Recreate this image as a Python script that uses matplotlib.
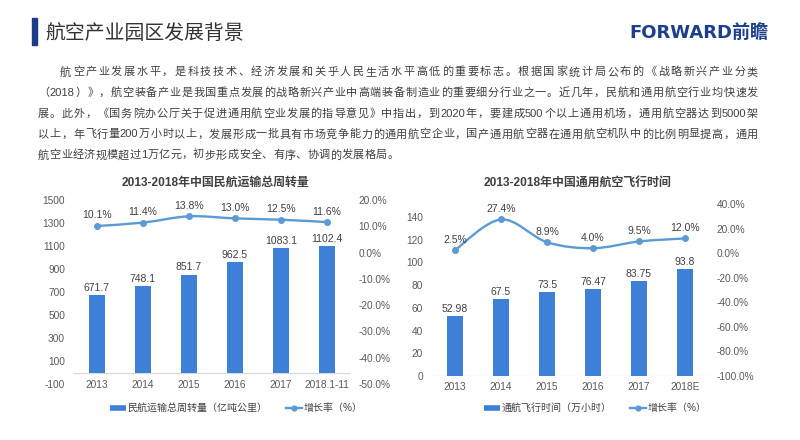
import re
import matplotlib
matplotlib.use('Agg')
import matplotlib.pyplot as plt
from matplotlib.path import Path
from matplotlib.patches import PathPatch, Rectangle
from matplotlib.lines import Line2D

plt.rcParams['font.family'] = ['Liberation Sans', 'Noto Sans CJK SC']
plt.rcParams['axes.unicode_minus'] = False

# ---- data ----
page_title = '航空产业园区发展背景'
para_lines = [
    '航空产业发展水平，是科技技术、经济发展和关乎人民生活水平高低的重要标志。根据国家统计局公布的《战略新兴产业分类',
    '（2018）》，航空装备产业是我国重点发展的战略新兴产业中高端装备制造业的重要细分行业之一。近几年，民航和通用航空行业均快速发',
    '展。此外，《国务院办公厅关于促进通用航空业发展的指导意见》中指出，到2020年，要建成500个以上通用机场，通用航空器达到5000架',
    '以上，年飞行量200万小时以上，发展形成一批具有市场竞争能力的通用航空企业，国产通用航空器在通用航空机队中的比例明显提高，通用',
    '航空业经济规模超过1万亿元，初步形成安全、有序、协调的发展格局。',
]

title1 = '2013-2018年中国民航运输总周转量'
years1 = ['2013', '2014', '2015', '2016', '2017', '2018.1-11']
turnover = [671.7, 748.1, 851.7, 962.5, 1083.1, 1102.4]
growth1 = [10.1, 11.4, 13.8, 13.0, 12.5, 11.6]
bar_name1 = '民航运输总周转量（亿吨公里）'

title2 = '2013-2018年中国通用航空飞行时间'
years2 = ['2013', '2014', '2015', '2016', '2017', '2018E']
hours = [52.98, 67.5, 73.5, 76.47, 83.75, 93.8]
growth2 = [2.5, 27.4, 8.9, 4.0, 9.5, 12.0]
bar_name2 = '通航飞行时间（万小时）'

line_name = '增长率（%）'

BAR = '#3e7fd8'
LINE = '#5b9bd5'
TXT = '#404040'
TICK = '#595959'
W, H = 800, 440


def fx(px):
    return px / W


def fy(py):
    return 1 - py / H


def smooth_path(xs, ys):
    # catmull-rom style bezier through the points (excel "smoothed line")
    verts = [(xs[0], ys[0])]
    codes = [Path.MOVETO]
    n = len(xs)
    for i in range(n - 1):
        a = i - 1 if i > 0 else i
        d = i + 2 if i + 2 < n else i + 1
        c1 = (xs[i] + (xs[i + 1] - xs[a]) / 6, ys[i] + (ys[i + 1] - ys[a]) / 6)
        c2 = (xs[i + 1] - (xs[d] - xs[i]) / 6, ys[i + 1] - (ys[d] - ys[i]) / 6)
        verts += [c1, c2, (xs[i + 1], ys[i + 1])]
        codes += [Path.CURVE4] * 3
    return Path(verts, codes)


fig = plt.figure(figsize=(8, 4.4), dpi=100)
renderer = fig.canvas.get_renderer()

# header
fig.patches.append(Rectangle((fx(32), fy(45)), fx(5), 27 / H,
                             transform=fig.transFigure, color='#1f3c88'))
fig.text(fx(45), fy(33), page_title, fontsize=14.3, color='#333333', va='center')
fig.text(fx(768), fy(33), 'FORWARD前瞻', fontsize=13, fontweight='bold',
         color='#1c3f8c', ha='right', va='center',
         family=['DejaVu Sans', 'Noto Sans CJK SC'])


# justified paragraph, placed token by token
def put_line(s, x0, x1, y, justify):
    toks = re.findall(r'[A-Za-z0-9.]+|.', s)
    ts = [fig.text(0, fy(y), t, fontsize=8, color=TXT, va='center') for t in toks]
    ws = [t.get_window_extent(renderer).width for t in ts]
    gap = (x1 - x0 - sum(ws)) / (len(ts) - 1) if justify else 0.3
    x = x0
    for t, w in zip(ts, ws):
        t.set_x(fx(x))
        x += w + gap


ys_para = [72, 92.8, 113.6, 134.4, 155.2]
for k, s in enumerate(para_lines):
    put_line(s, 60 if k == 0 else 38, 758, ys_para[k], k < 4)


def make_chart(left_px, top_px, bot_px, cats, bars, growth, ylim, yticks,
               rlim, rticks, xpad, title, tx, bar_name, zero_line, leg_x):
    ax = fig.add_axes([fx(left_px), fy(bot_px), 276 / W, (bot_px - top_px) / H])
    axr = ax.twinx()
    x = list(range(len(cats)))
    ax.bar(x, bars, width=0.36, color=BAR, zorder=2)
    ax.set_xlim(-0.5, len(cats) - 0.5)
    ax.set_ylim(*ylim)
    ax.set_yticks(yticks)
    ax.set_xticks(x)
    ax.set_xticklabels(cats)
    ax.axhline(zero_line, color='#d9d9d9', lw=0.9, zorder=1)
    for i, v in enumerate(bars):
        ax.annotate(f'{v}', (i, v), xytext=(0, 1.5), textcoords='offset points',
                    ha='center', va='bottom', fontsize=7.5, color=TXT)
    axr.set_ylim(*rlim)
    axr.set_yticks(rticks)
    axr.set_yticklabels([f'{v:.1f}%' for v in rticks])
    axr.add_patch(PathPatch(smooth_path(x, growth), fill=False,
                            edgecolor=LINE, lw=1.7, zorder=3))
    axr.plot(x, growth, 'o', color=LINE, ms=4, zorder=4)
    for i, v in enumerate(growth):
        axr.annotate(f'{v:.1f}%', (i, v), xytext=(0, 4), textcoords='offset points',
                     ha='center', va='bottom', fontsize=7.5, color=TXT)
    for a in (ax, axr):
        for sp in a.spines.values():
            sp.set_visible(False)
    ax.tick_params(axis='y', length=0, pad=6.5, labelsize=7.3, labelcolor=TICK)
    ax.tick_params(axis='x', length=0, pad=xpad, labelsize=7.3, labelcolor=TICK)
    axr.tick_params(axis='y', length=0, pad=6, labelsize=7.3, labelcolor=TICK)
    fig.text(fx(tx), fy(183), title, ha='center', va='center', fontsize=8.6,
             fontweight='bold', color=TXT)
    handles = [Line2D([], [], color=BAR, lw=4, solid_capstyle='butt'),
               Line2D([], [], color=LINE, lw=1.7, marker='o', ms=3.5)]
    fig.legend(handles, [bar_name, line_name], ncol=2, frameon=False,
               loc='center', bbox_to_anchor=(fx(leg_x), fy(408)),
               fontsize=7.2, handlelength=1.6, handletextpad=0.2,
               columnspacing=1.8, labelcolor=TXT)
    return ax, axr


make_chart(74, 200, 384, years1, turnover, growth1, (-100, 1500),
           list(range(-100, 1501, 200)), (-50, 20), list(range(-50, 21, 10)),
           -3.2, title1, 215, bar_name1, 0, 236)

make_chart(432, 204, 376, years2, hours, growth2, (0, 151.4),
           list(range(0, 141, 20)), (-100, 40), list(range(-100, 41, 20)),
           4.3, title2, 577, bar_name2, 0, 595)

fig.savefig('out.png', dpi=100)
